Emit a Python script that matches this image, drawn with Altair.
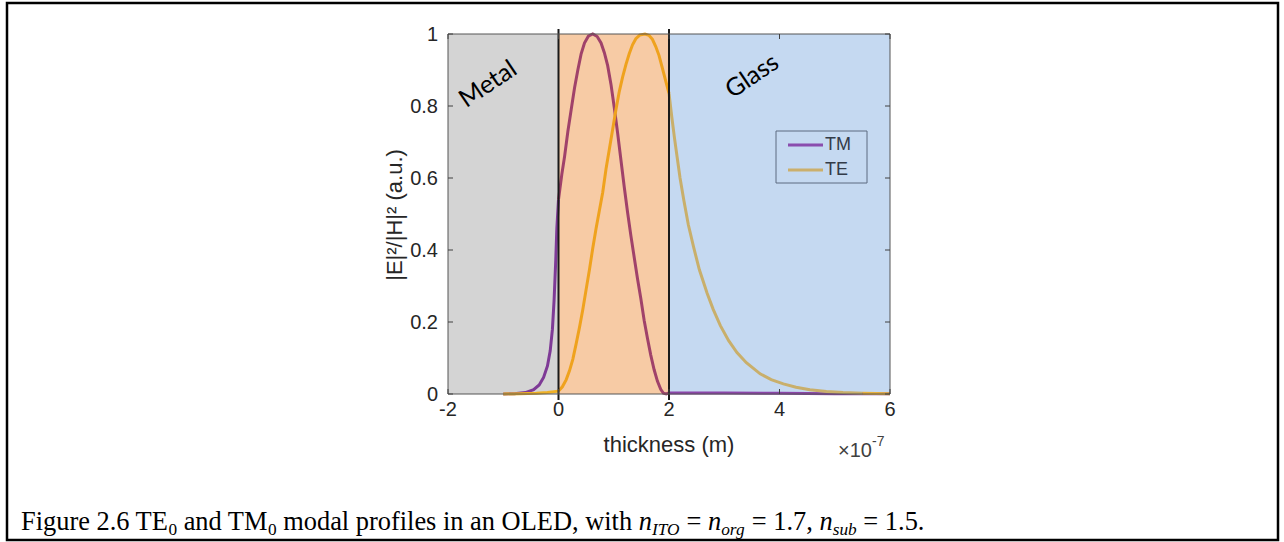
import altair as alt
import pandas as pd

# ---------------- data (x in units of 1e-7 m) ----------------
tm_metal_x = [-1.0, -0.8, -0.6, -0.45, -0.35, -0.27, -0.2, -0.15, -0.11, -0.08, -0.05, -0.03, 0.0]
tm_metal_y = [0.0, 0.001, 0.004, 0.012, 0.025, 0.046, 0.078, 0.12, 0.18, 0.26, 0.37, 0.46, 0.54]
tm_ito_x = [0.0, 0.06, 0.11, 0.17, 0.23, 0.29, 0.35, 0.41, 0.47, 0.54, 0.62, 0.70, 0.77, 0.83, 0.89,
            0.95, 1.01, 1.07, 1.13, 1.19, 1.25, 1.31, 1.37, 1.43, 1.49, 1.55, 1.61, 1.67, 1.73, 1.79,
            1.85, 1.90, 1.95, 2.0]
tm_ito_y = [0.54, 0.61, 0.66, 0.73, 0.79, 0.85, 0.90, 0.945, 0.975, 0.994, 1.0, 0.993, 0.975, 0.948, 0.912,
            0.86, 0.795, 0.725, 0.65, 0.575, 0.505, 0.44, 0.38, 0.32, 0.265, 0.205, 0.155, 0.108, 0.068, 0.036,
            0.013, 0.002, 0.0, 0.003]
tm_glass_x = [2.0, 3.0, 4.0, 5.0, 6.0]
tm_glass_y = [0.003, 0.003, 0.002, 0.001, 0.001]

te_metal_x = [-1.0, -0.7, -0.4, -0.2, 0.0]
te_metal_y = [0.0, 0.001, 0.002, 0.004, 0.008]
te_ito_x = [0.0, 0.07, 0.14, 0.2, 0.26, 0.32, 0.38, 0.44, 0.5, 0.56, 0.62, 0.68, 0.74, 0.8, 0.86, 0.92,
            0.98, 1.04, 1.1, 1.16, 1.22, 1.28, 1.34, 1.4, 1.47, 1.565, 1.64, 1.7, 1.76, 1.82, 1.88, 1.94, 2.0]
te_ito_y = [0.008, 0.02, 0.04, 0.065, 0.097, 0.14, 0.185, 0.235, 0.29, 0.345, 0.405, 0.46, 0.51, 0.56,
            0.625, 0.68, 0.735, 0.79, 0.84, 0.88, 0.915, 0.945, 0.97, 0.987, 0.997, 1.0, 0.996, 0.985,
            0.965, 0.94, 0.905, 0.87, 0.835]
te_glass_x = [2.0, 2.05, 2.1, 2.15, 2.2, 2.27, 2.35, 2.45, 2.55, 2.69, 2.8, 2.93, 3.08, 3.23, 3.4, 3.65,
              3.85, 4.07, 4.3, 4.55, 4.85, 5.15, 5.5]
te_glass_y = [0.835, 0.77, 0.71, 0.655, 0.60, 0.537, 0.47, 0.405, 0.345, 0.28, 0.235, 0.19, 0.148, 0.115,
              0.087, 0.056, 0.04, 0.028, 0.019, 0.012, 0.007, 0.004, 0.002]
te_tail_x = [5.5, 6.0]
te_tail_y = [0.002, 0.001]

region_names = ["Metal", "ITO", "Glass"]
region_x0 = [-2, 0, 2]
region_x1 = [0, 2, 6]
region_colors = ["#D4D4D4", "#F7CBA5", "#C5D9F1"]

boundaries = [0, 2]
x_ticks = [-2, 0, 2, 4, 6]
x_tick_labels = ["-2", "0", "2", "4", "6"]
y_ticks = [0, 0.2, 0.4, 0.6, 0.8, 1.0]
y_tick_labels = ["0", "0.2", "0.4", "0.6", "0.8", "1"]

legend_labels = ["TM", "TE"]
legend_colors = ["#8A4DAE", "#CBAF6C"]

caption_pieces = ["Figure 2.6 TE", "0", " and TM", "0", " modal profiles in an OLED, with ",
                  "n", "ITO", " = ", "n", "org", " = 1.7, ", "n", "sub", " = 1.5."]
caption_italic = [False, False, False, False, False, True, True, False, True, True, False, True, True, False]
caption_sub = [False, True, False, True, False, False, True, False, False, True, False, False, True, False]

# ---------------- layout ----------------
W, H = 442, 360
PADL, PADT = 448, 34
xs = alt.Scale(domain=[-2, 6], nice=False, zero=False)
ys = alt.Scale(domain=[0, 1], nice=False, zero=False)
AXF = "Liberation Sans"
AXC = "#262626"

def seg_df(name, xv, yv):
    return pd.DataFrame({"x": xv, "y": yv, "seg": name})

tm_df = pd.concat([seg_df("TM_metal", tm_metal_x, tm_metal_y),
                   seg_df("TM_ito", tm_ito_x, tm_ito_y),
                   seg_df("TM_glass", tm_glass_x, tm_glass_y)])
te_df = pd.concat([seg_df("TE_metal", te_metal_x, te_metal_y),
                   seg_df("TE_ito", te_ito_x, te_ito_y),
                   seg_df("TE_glass", te_glass_x, te_glass_y),
                   seg_df("TE_tail", te_tail_x, te_tail_y)])
seg_domain = ["TM_metal", "TM_ito", "TM_glass", "TE_metal", "TE_ito", "TE_glass", "TE_tail"]
seg_range = ["#7E3A96", "#A0426A", "#8B45A8", "#EFB126", "#EFA21E", "#C9AF6B", "#E9B13C"]
seg_scale = alt.Scale(domain=seg_domain, range=seg_range)

one = pd.DataFrame({"a": [0]})

regions = alt.Chart(pd.DataFrame({"name": region_names, "x0": region_x0, "x1": region_x1,
                                  "y0": [0] * 3, "y1": [1] * 3})).mark_rect().encode(
    x=alt.X("x0:Q", scale=xs, axis=None), x2="x1:Q",
    y=alt.Y("y0:Q", scale=ys, axis=None), y2="y1:Q",
    color=alt.Color("name:N", scale=alt.Scale(domain=region_names, range=region_colors), legend=None))

frame = alt.Chart(one).mark_rect(fillOpacity=0, stroke="#555555", strokeWidth=1).encode(
    x=alt.value(0), x2=alt.value(W), y=alt.value(0), y2=alt.value(H))

tm_line = alt.Chart(tm_df).mark_line(strokeWidth=3).encode(
    x=alt.X("x:Q", scale=xs, axis=None), y=alt.Y("y:Q", scale=ys, axis=None),
    color=alt.Color("seg:N", scale=seg_scale, legend=None), detail="seg:N")
te_line = alt.Chart(te_df).mark_line(strokeWidth=3).encode(
    x=alt.X("x:Q", scale=xs, axis=None), y=alt.Y("y:Q", scale=ys, axis=None),
    color=alt.Color("seg:N", scale=seg_scale, legend=None), detail="seg:N")

bnd = alt.Chart(pd.DataFrame({"xb": boundaries})).mark_rule(color="#1a1a1a", strokeWidth=2).encode(
    x=alt.X("xb:Q", scale=xs, axis=None), y=alt.value(-5), y2=alt.value(H + 6))

xt = pd.DataFrame({"v": x_ticks, "lab": x_tick_labels})
yt = pd.DataFrame({"v": y_ticks, "lab": y_tick_labels})
tick_style = dict(color="#404040", strokeWidth=1)
xt_bot = alt.Chart(xt).mark_rule(**tick_style).encode(
    x=alt.X("v:Q", scale=xs, axis=None), y=alt.value(H), y2=alt.value(H - 5))
xt_top = alt.Chart(xt).mark_rule(**tick_style).encode(
    x=alt.X("v:Q", scale=xs, axis=None), y=alt.value(0), y2=alt.value(5))
yt_left = alt.Chart(yt).mark_rule(**tick_style).encode(
    y=alt.Y("v:Q", scale=ys, axis=None), x=alt.value(0), x2=alt.value(5))
yt_right = alt.Chart(yt).mark_rule(**tick_style).encode(
    y=alt.Y("v:Q", scale=ys, axis=None), x=alt.value(W), x2=alt.value(W - 5))

xlab = alt.Chart(xt).mark_text(font=AXF, fontSize=20, color=AXC, align="center",
                               baseline="alphabetic").encode(
    x=alt.X("v:Q", scale=xs, axis=None), y=alt.value(382), text="lab:N")
ylab = alt.Chart(yt).mark_text(font=AXF, fontSize=20, color=AXC, align="right",
                               baseline="middle", dy=1).encode(
    y=alt.Y("v:Q", scale=ys, axis=None), x=alt.value(-10), text="lab:N")

xtitle = alt.Chart(one).mark_text(font=AXF, fontSize=22, color=AXC, align="center",
                                  baseline="alphabetic", text="thickness (m)").encode(
    x=alt.value(221), y=alt.value(418))
ytitle = alt.Chart(one).mark_text(font=AXF, fontSize=22, color=AXC, align="center",
                                  baseline="middle", angle=270, text="|E|²/|H|² (a.u.)").encode(
    x=alt.value(-53), y=alt.value(181))
exp1 = alt.Chart(one).mark_text(font=AXF, fontSize=20, color="#404040", align="right",
                                baseline="alphabetic", text="×10").encode(
    x=alt.value(424), y=alt.value(423))
exp2 = alt.Chart(one).mark_text(font=AXF, fontSize=14, color="#404040", align="left",
                                baseline="alphabetic", text="-7").encode(
    x=alt.value(424), y=alt.value(412))

metal_txt = alt.Chart(one).mark_text(font="Lato", fontSize=25, color="black", angle=326,
                                     align="center", baseline="middle", text="Metal").encode(
    x=alt.value(40), y=alt.value(50))
glass_txt = alt.Chart(one).mark_text(font="Lato", fontSize=25, color="black", angle=326,
                                     align="center", baseline="middle", text="Glass").encode(
    x=alt.value(304), y=alt.value(42))

# legend
leg_box = alt.Chart(one).mark_rect(fillOpacity=0, stroke="#5d6b80", strokeWidth=1).encode(
    x=alt.value(328), x2=alt.value(419), y=alt.value(97), y2=alt.value(149))
leg_df = pd.DataFrame({"lab": legend_labels, "py": [111, 136]})
leg_lines = alt.Chart(leg_df).mark_rule(strokeWidth=3).encode(
    x=alt.value(340), x2=alt.value(375), y=alt.Y("py:Q", scale=None),
    color=alt.Color("lab:N", scale=alt.Scale(domain=legend_labels, range=legend_colors), legend=None))
leg_text = alt.Chart(leg_df).mark_text(font=AXF, fontSize=18, color="#333b48", align="left",
                                       baseline="middle").encode(
    x=alt.value(377), y=alt.Y("py:Q", scale=None), text="lab:N")

# outer border
border = alt.Chart(one).mark_rect(fillOpacity=0, stroke="black", strokeWidth=2.5).encode(
    x=alt.value(7 - PADL), x2=alt.value(1278 - PADL), y=alt.value(3 - PADT), y2=alt.value(540 - PADT))

# caption (Times metrics for Liberation Serif)
ROMAN = {' ': 250, 'F': 556, 'i': 278, 'g': 500, 'u': 500, 'r': 333, 'e': 444, '2': 500, '.': 250,
         '6': 500, 'T': 611, 'E': 611, '0': 500, 'a': 444, 'n': 500, 'd': 500, 'M': 889, 'm': 778,
         'o': 500, 'l': 278, 'p': 500, 'f': 333, 's': 389, 'O': 722, 'L': 611, 'D': 722, ',': 250,
         'w': 722, 't': 278, 'h': 500, '=': 564, '1': 500, '7': 500, '5': 500}
ITAL = {'n': 500, 'I': 333, 'T': 556, 'O': 722, 'o': 500, 'r': 389, 'g': 500, 's': 389, 'u': 500, 'b': 500}
MAIN_FS, SUB_FS = 26.4, 17.3
BASE_Y = 530 - PADT
cx = 21 - PADL
rows = []
for txt, it, sub in zip(caption_pieces, caption_italic, caption_sub):
    fs = SUB_FS if sub else MAIN_FS
    table = ITAL if it else ROMAN
    lead = len(txt) - len(txt.lstrip(" "))
    start = cx + lead * 250 * fs / 1000.0
    stripped = txt.strip(" ")
    rows.append({"px": start, "py": BASE_Y + (5 if sub else 0), "t": stripped, "fs": fs, "it": it})
    cx += sum(table.get(c, ROMAN.get(c, 500)) for c in txt) * fs / 1000.0
cap_df = pd.DataFrame(rows)
cap_roman = alt.Chart(cap_df[~cap_df["it"]]).mark_text(font="Liberation Serif", color="black", align="left",
                                                       baseline="alphabetic").encode(
    x=alt.X("px:Q", scale=None), y=alt.Y("py:Q", scale=None), text="t:N", size=alt.Size("fs:Q", scale=None))
cap_ital = alt.Chart(cap_df[cap_df["it"]]).mark_text(font="Liberation Serif", fontStyle="italic", color="black",
                                                     align="left", baseline="alphabetic").encode(
    x=alt.X("px:Q", scale=None), y=alt.Y("py:Q", scale=None), text="t:N", size=alt.Size("fs:Q", scale=None))

chart = alt.layer(
    regions, tm_line, te_line, bnd, frame, xt_bot, xt_top, yt_left, yt_right,
    xlab, ylab, xtitle, ytitle, exp1, exp2, metal_txt, glass_txt,
    leg_box, leg_lines, leg_text, border, cap_roman, cap_ital
).resolve_scale(color="independent").properties(
    width=W, height=H,
    padding={"left": PADL, "top": PADT, "right": 1284 - PADL - W, "bottom": 542 - PADT - H},
    autosize=alt.AutoSizeParams(type="none"),
    background="white",
).configure_view(stroke=None)

chart.save("out.html", embed_options={"renderer": "svg", "actions": False})
